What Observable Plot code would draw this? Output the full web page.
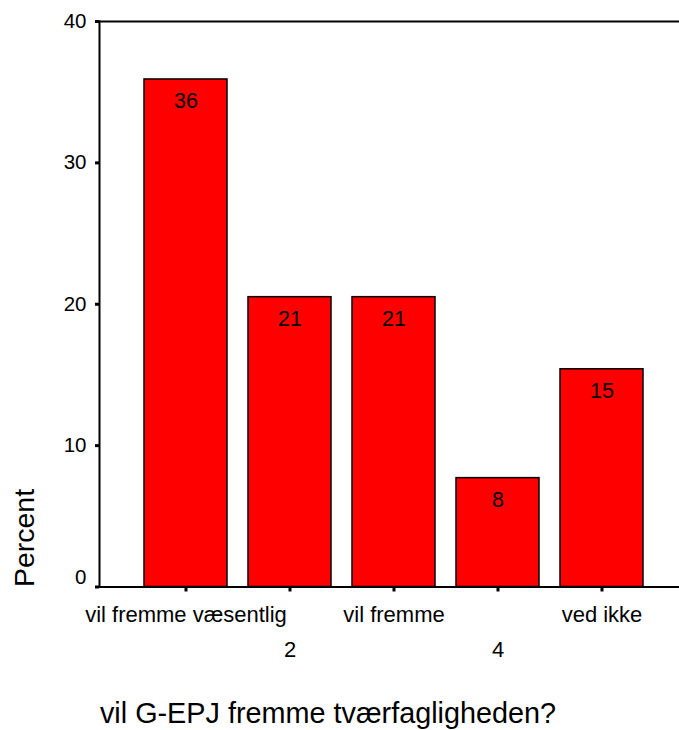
<!DOCTYPE html>
<html>
<head>
<meta charset="utf-8">
<script src="https://cdn.jsdelivr.net/npm/d3@7"></script>
<script src="https://cdn.jsdelivr.net/npm/@observablehq/plot@0.6"></script>
<style>
  body { margin: 0; background: #fff; }
  #chart svg { display: block; }
</style>
</head>
<body>
<div id="chart"></div>
<script>
const categories = ["vil fremme væsentlig", "2", "vil fremme", "4", "ved ikke"];
const percents = [35.9, 20.5, 20.5, 7.7, 15.4];
const barLabels = ["36", "21", "21", "8", "15"];
const yTicks = [0, 10, 20, 30, 40];
const xTitle = "vil G-EPJ fremme tværfagligheden?";
const yTitle = "Percent";

const data = categories.map((c, i) => ({cat: c, pct: percents[i], label: barLabels[i], row: i % 2}));
const yTickRows = yTicks.map(v => ({v, s: String(v)}));

const font = "'Liberation Sans', Arial, sans-serif";

const chart = Plot.plot({
  width: 679,
  height: 730,
  marginLeft: 99,
  marginRight: 0,
  marginTop: 21,
  marginBottom: 143.5,
  style: {fontFamily: font, background: "#fff"},
  x: {type: "band", domain: categories, range: [99, 688], paddingInner: 0.2, paddingOuter: 0.43},
  y: {domain: [0, 40]},
  marks: [
    Plot.barY(data, {x: "cat", y: "pct", fill: "#ff0000", stroke: "#000", strokeWidth: 1.5}),
    Plot.text(data, {x: "cat", y: "pct", text: "label", dy: 22, fontSize: 21.5, fill: "#000", textAnchor: "middle", lineAnchor: "middle"}),
    Plot.ruleY([0, 40], {stroke: "#000", strokeWidth: 2}),
    Plot.frame({anchor: "left", stroke: "#000", strokeWidth: 2}),
    Plot.axisY({ticks: yTicks, tickSize: 4, strokeWidth: 3, tickFormat: () => "", label: null}),
    Plot.text(yTickRows.filter(d => d.v !== 0), {y: "v", text: "s", frameAnchor: "left", textAnchor: "end", lineAnchor: "middle", dx: -13, fontSize: 20.5, fill: "#000"}),
    Plot.text(yTickRows.filter(d => d.v === 0), {y: "v", text: "s", frameAnchor: "left", textAnchor: "end", lineAnchor: "middle", dx: -13, dy: -9.5, fontSize: 20.5, fill: "#000"}),
    Plot.axisX({tickSize: 5, tickPadding: 0, strokeWidth: 3, tickFormat: () => "", label: null}),
    Plot.text(data.filter(d => d.row === 0), {x: "cat", y: 0, text: "cat", dy: 27.5, fontSize: 22, fill: "#000", textAnchor: "middle", lineAnchor: "middle"}),
    Plot.text(data.filter(d => d.row === 1), {x: "cat", y: 0, text: "cat", dy: 62.5, fontSize: 22, fill: "#000", textAnchor: "middle", lineAnchor: "middle"}),
    Plot.text([xTitle], {frameAnchor: "bottom", dx: -61.5, dy: 126.5, fontSize: 28.8, fill: "#000", textAnchor: "middle", lineAnchor: "middle"}),
    Plot.text([yTitle], {frameAnchor: "bottom-left", dx: -75, dy: -49, rotate: -90, fontSize: 28.5, fill: "#000", textAnchor: "middle", lineAnchor: "middle"})
  ]
});
document.getElementById("chart").append(chart);
</script>
</body>
</html>
